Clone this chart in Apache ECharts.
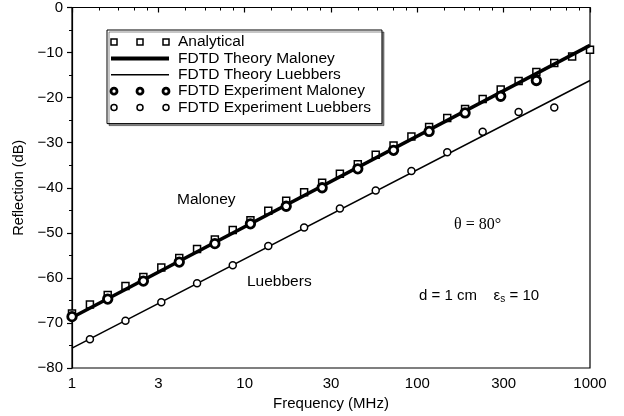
<!DOCTYPE html>
<html>
<head>
<meta charset="utf-8">
<script src="https://cdn.jsdelivr.net/npm/echarts@6/dist/echarts.min.js"></script>
<style>
  html, body { margin: 0; padding: 0; background: #fff; }
  #chart { width: 624px; height: 416px; }
</style>
</head>
<body>
<div id="chart"></div>
<script>
// frequencies in MHz, reflection in dB
const analyticalFreq = [1, 1.27, 1.61, 2.04, 2.59, 3.29, 4.18, 5.30, 6.72, 8.53, 10.8, 13.7, 17.4, 22.1, 28.1,
  35.6, 45.2, 57.4, 72.8, 92.4, 117, 149, 189, 239, 304, 386, 489, 621, 788, 1000];
const analyticalDb = [-67.9, -65.9, -63.8, -61.8, -59.8, -57.7, -55.6, -53.6, -51.5, -49.4, -47.2, -45.1, -42.9, -41.0, -38.9,
  -36.9, -34.8, -32.7, -30.6, -28.6, -26.5, -24.5, -22.5, -20.3, -18.2, -16.3, -14.3, -12.3, -10.9, -9.4];

const theoryFreq = [1, 1000];
const maloneyTheoryDb = [-68.8, -8.4];
const luebbersTheoryDb = [-75.6, -16.2];

const maloneyExpFreq = [1, 1.61, 2.59, 4.18, 6.72, 10.8, 17.4, 28.1, 45.2, 72.8, 117, 189, 304, 489];
const maloneyExpDb = [-68.6, -64.7, -60.7, -56.5, -52.4, -48.0, -44.1, -40.0, -35.8, -31.7, -27.5, -23.4, -19.7, -16.2];

const luebbersExpFreq = [1.27, 2.04, 3.29, 5.30, 8.53, 13.7, 22.1, 35.6, 57.4, 92.4, 149, 239, 386, 621];
const luebbersExpDb = [-73.6, -69.5, -65.4, -61.2, -57.2, -52.9, -48.8, -44.6, -40.6, -36.3, -32.1, -27.6, -23.2, -22.2];

const seriesNames = ['Analytical', 'FDTD Theory Maloney', 'FDTD Theory Luebbers',
  'FDTD Experiment Maloney', 'FDTD Experiment Luebbers'];

const FONT = 'Liberation Sans';

function pairs(xs, ys) {
  return xs.map((x, i) => [x, ys[i]]);
}

const threeSquares = 'path://M0,0h6v6h-6zM26,0h6v6h-6zM52,0h6v6h-6z';
const threeCircles = 'path://M0,3A3,3,0,1,0,6,3A3,3,0,1,0,0,3ZM26,3A3,3,0,1,0,32,3A3,3,0,1,0,26,3ZM52,3A3,3,0,1,0,58,3A3,3,0,1,0,52,3Z';

let option = {
  backgroundColor: '#fff',
  animation: false,
  grid: {
    left: 72,
    right: 34,
    top: 7,
    bottom: 48,
    show: true,
    borderColor: '#000',
    borderWidth: 1.2
  },
  legend: {
    orient: 'vertical',
    left: 107,
    top: 30,
    padding: [4, 11, 8, 2],
    itemWidth: 58,
    itemHeight: 6,
    itemGap: 0.4,
    backgroundColor: '#fff',
    borderColor: '#000',
    borderWidth: 1,
    shadowColor: 'rgba(0,0,0,0.45)',
    shadowOffsetX: 2,
    shadowOffsetY: 2,
    textStyle: {
      fontFamily: FONT,
      fontSize: 15.5,
      color: '#000',
      lineHeight: 16,
      padding: [0, 0, 0, 4]
    },
    data: [
      { name: seriesNames[0], icon: threeSquares, itemStyle: { color: '#fff', borderColor: '#000', borderWidth: 1.5 } },
      { name: seriesNames[1], itemStyle: { opacity: 0 }, lineStyle: { width: 4, color: '#000' } },
      { name: seriesNames[2], itemStyle: { opacity: 0 }, lineStyle: { width: 1.5, color: '#000' } },
      { name: seriesNames[3], icon: threeCircles, itemStyle: { color: '#fff', borderColor: '#000', borderWidth: 2.8 } },
      { name: seriesNames[4], icon: threeCircles, itemStyle: { color: '#fff', borderColor: '#000', borderWidth: 1.5 } }
    ]
  },
  xAxis: {
    type: 'log',
    logBase: Math.sqrt(10),
    min: 1,
    max: 1000,
    splitNumber: 6,
    name: 'Frequency (MHz)',
    nameLocation: 'middle',
    nameGap: 28,
    nameTextStyle: { fontFamily: FONT, fontSize: 15, color: '#000' },
    axisLine: { lineStyle: { color: '#000', width: 1.2 } },
    axisTick: { inside: false, length: 5, lineStyle: { color: '#000', width: 1.2 } },
    minorTick: { show: true, splitNumber: 5, length: 3, lineStyle: { color: '#000', width: 1 } },
    splitLine: { show: false },
    axisLabel: {
      margin: 8,
      fontFamily: FONT,
      fontSize: 15,
      color: '#000',
      formatter: v => String(Number(Number(v).toPrecision(1)))
    }
  },
  yAxis: {
    type: 'value',
    min: -80,
    max: 0,
    interval: 10,
    name: 'Reflection (dB)',
    nameLocation: 'middle',
    nameGap: 46,
    nameTextStyle: { fontFamily: FONT, fontSize: 14.5, color: '#000' },
    axisLine: { show: true, lineStyle: { color: '#000', width: 1.2 } },
    axisTick: { inside: false, length: 5, lineStyle: { color: '#000', width: 1.2 } },
    minorTick: { show: true, splitNumber: 2, length: 3, lineStyle: { color: '#000', width: 1 } },
    splitLine: { show: false },
    axisLabel: {
      margin: 9,
      fontFamily: FONT,
      fontSize: 15,
      color: '#000',
      formatter: v => (v < 0 ? '\u2212' + (-v) : String(v))
    }
  },
  series: [
    {
      name: seriesNames[0],
      type: 'scatter',
      symbol: 'rect',
      symbolSize: 7,
      clip: false,
      z: 1,
      itemStyle: { color: '#fff', borderColor: '#000', borderWidth: 1.5, opacity: 1 },
      data: pairs(analyticalFreq, analyticalDb)
    },
    {
      name: seriesNames[1],
      type: 'line',
      symbol: 'none',
      z: 2,
      lineStyle: { color: '#000', width: 3.5 },
      itemStyle: { color: '#000' },
      data: pairs(theoryFreq, maloneyTheoryDb)
    },
    {
      name: seriesNames[2],
      type: 'line',
      symbol: 'none',
      z: 2,
      lineStyle: { color: '#000', width: 1.5 },
      itemStyle: { color: '#000' },
      data: pairs(theoryFreq, luebbersTheoryDb)
    },
    {
      name: seriesNames[3],
      type: 'scatter',
      symbol: 'circle',
      symbolSize: 8.5,
      clip: false,
      z: 3,
      itemStyle: { color: '#fff', borderColor: '#000', borderWidth: 2.8, opacity: 1 },
      data: pairs(maloneyExpFreq, maloneyExpDb)
    },
    {
      name: seriesNames[4],
      type: 'scatter',
      symbol: 'circle',
      symbolSize: 7,
      clip: false,
      z: 3,
      itemStyle: { color: '#fff', borderColor: '#000', borderWidth: 1.5, opacity: 1 },
      data: pairs(luebbersExpFreq, luebbersExpDb)
    }
  ],
  graphic: [
    {
      type: 'text', left: 177, top: 192,
      style: { text: 'Maloney', fontFamily: FONT, fontSize: 15.5, fill: '#000' }
    },
    {
      type: 'text', left: 247, top: 274,
      style: { text: 'Luebbers', fontFamily: FONT, fontSize: 15.5, fill: '#000' }
    },
    {
      type: 'text', left: 454, top: 217,
      style: { text: '\u03b8 = 80\u00b0', fontFamily: 'Liberation Serif', fontSize: 16, fill: '#000' }
    },
    {
      type: 'text', left: 419, top: 288,
      style: {
        text: '{a|d = 1 cm    \u03b5}{s|s}{a| = 10}',
        rich: {
          a: { fontFamily: FONT, fontSize: 15, fill: '#000', color: '#000' },
          s: { fontFamily: FONT, fontSize: 10, fill: '#000', color: '#000', padding: [8, 0, 0, 0] }
        }
      }
    }
  ]
};

let myChart = echarts.init(document.getElementById('chart'));
myChart.setOption(option);
window.onresize = function () {
  myChart.resize();
};
</script>
</body>
</html>
